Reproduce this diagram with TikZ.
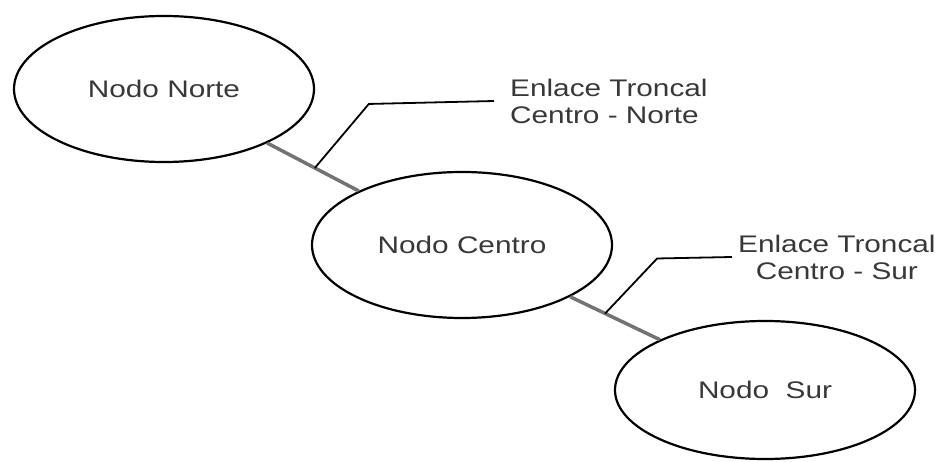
\documentclass[tikz,border=0pt]{standalone}
\usepackage{fontspec}
\setmainfont{Liberation Sans}
\usetikzlibrary{shapes.geometric}
\definecolor{linkgray}{gray}{0.45}
\definecolor{txtgray}{gray}{0.22}
\newcommand{\ancho}[1]{\scalebox{1.24}[1]{#1}}
\tikzstyle{nodo}=[ellipse,draw,line width=2.2pt,minimum width=300pt,minimum height=146pt,inner sep=0pt,text=txtgray,font=\fontsize{24}{27}\selectfont]
\tikzstyle{enlace}=[draw=linkgray,line width=3.5pt]
\tikzstyle{guia}=[draw,line width=1.8pt]
\tikzstyle{etiq}=[text=txtgray,font=\fontsize{24}{27}\selectfont,inner ysep=0pt,anchor=west]

\begin{document}
\begin{tikzpicture}[x=1pt,y=-1pt]
    \useasboundingbox (0,0) rectangle (935,462);
    \node[nodo] (norte) at (164,89) {\ancho{Nodo Norte}};
    \node[nodo] (centro) at (462,245) {\ancho{Nodo Centro}};
    \node[nodo,minimum height=138pt] (sur) at (765,390) {\ancho{Nodo~~Sur}};
    \node[etiq,align=left,inner xsep=16pt] (etqn) at (494,101) {\ancho{Enlace Troncal}\\\ancho{Centro - Norte}};
    \node[etiq,align=center,inner xsep=6pt] (etqs) at (732,257) {\ancho{Enlace Troncal}\\\ancho{Centro - Sur}};
    \draw[enlace] (norte) -- coordinate[pos=0.52] (pn) (centro);
    \draw[enlace] (centro) -- coordinate[pos=0.39] (ps) (sur);
    \draw[guia] (pn) -- ++(54,-64) -- (etqn.west);
    \draw[guia] (ps) -- ++(52,-55) -- (etqs.west);
  \end{tikzpicture}
\end{document}
